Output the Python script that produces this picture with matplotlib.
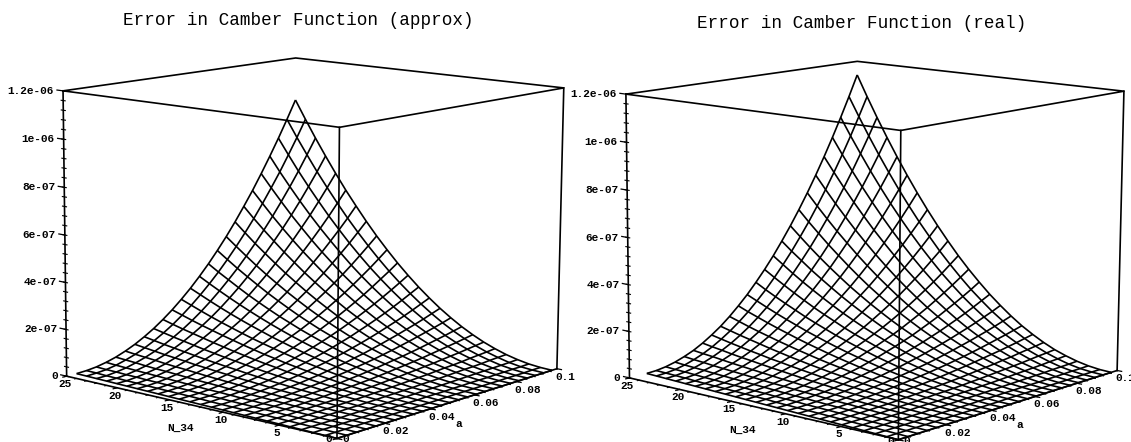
import numpy as np
import matplotlib
matplotlib.use('Agg')
import matplotlib.pyplot as plt
from mpl_toolkits.mplot3d import proj3d

W, H = 1131, 442

n_grid = [25*i/24 for i in range(25)]
a_grid = [0.1*i/24 for i in range(25)]

# error surfaces, units of 1e-9, rows = N_34, columns = a
z_approx = [
    [0]*25,
    [0,0,0,0,0,0,0,0,0,0,0,0,0,1,1,1,1,1,1,1,1,1,1,2,2],
    [0,0,0,0,0,0,0,1,1,1,1,1,2,2,2,3,3,4,4,4,5,5,6,6,7],
    [0,0,0,0,0,1,1,1,2,2,3,3,4,5,5,6,7,8,9,10,11,12,13,14,16],
    [0,0,0,0,1,1,2,2,3,4,5,6,7,8,10,11,12,14,16,18,19,21,24,26,28],
    [0,0,0,1,1,2,3,4,5,6,8,9,11,13,15,17,19,22,25,27,30,34,37,40,44],
    [0,0,0,1,2,3,4,5,7,9,11,13,16,19,21,25,28,32,35,40,44,48,53,58,63],
    [0,0,1,1,2,4,5,7,10,12,15,18,21,25,29,34,38,43,48,54,60,66,72,79,86],
    [0,0,1,2,3,5,7,10,12,16,19,24,28,33,38,44,50,56,63,70,78,86,94,103,112],
    [0,0,1,2,4,6,9,12,16,20,25,30,35,42,48,55,63,71,80,89,99,109,119,130,142],
    [0,0,1,3,5,8,11,15,19,25,30,37,44,51,60,68,78,88,99,110,122,134,147,161,175],
    [0,0,1,3,6,9,13,18,24,30,37,45,53,62,72,83,94,106,119,133,147,162,178,195,212],
    [0,0,2,4,7,11,16,21,28,35,44,53,63,74,86,99,112,127,142,158,175,193,212,232,252],
    [0,1,2,5,8,13,19,25,33,42,51,62,74,87,101,116,132,149,167,186,206,227,249,272,296],
    [0,1,2,5,10,15,21,29,38,48,60,72,86,101,117,134,153,172,193,215,238,263,289,315,343],
    [0,1,3,6,11,17,25,34,44,55,68,83,99,116,134,154,175,198,222,247,274,302,331,362,394],
    [0,1,3,7,12,19,28,38,50,63,78,94,112,132,153,175,199,225,252,281,311,343,377,412,448],
    [0,1,4,8,14,22,32,43,56,71,88,106,127,149,172,198,225,254,285,317,352,388,425,465,506],
    [0,1,4,9,16,25,35,48,63,80,99,119,142,167,193,222,252,285,319,356,394,435,477,521,568],
    [0,1,4,10,18,27,40,54,70,89,110,133,158,186,215,247,281,317,356,396,439,484,531,581,632],
    [0,1,5,11,19,30,44,60,78,99,122,147,175,206,238,274,311,352,394,439,487,536,589,644,701],
    [0,1,5,12,21,34,48,66,86,109,134,162,193,227,263,302,343,388,435,484,536,591,649,709,773],
    [0,1,6,13,24,37,53,72,94,119,147,178,212,249,289,331,377,425,477,531,589,649,712,779,848],
    [0,2,6,14,26,40,58,79,103,130,161,195,232,272,315,362,412,465,521,581,644,709,779,851,927],
    [0,2,7,16,28,44,63,86,112,142,175,212,252,296,343,394,448,506,568,632,701,773,848,927,1009],
]
z_real = [
    [0]*25,
    [0,0,0,0,0,0,0,0,0,0,0,0,0,1,1,1,1,1,1,1,1,2,2,2,2],
    [0,0,0,0,0,0,0,1,1,1,1,2,2,2,3,3,4,4,4,5,5,6,7,7,8],
    [0,0,0,0,0,1,1,2,2,2,3,4,4,5,6,7,8,9,10,11,12,14,15,16,18],
    [0,0,0,0,1,1,2,3,4,4,5,7,8,9,11,12,14,16,18,20,22,24,27,29,32],
    [0,0,0,1,1,2,3,4,5,7,9,10,12,14,17,19,22,25,28,31,34,38,42,45,49],
    [0,0,0,1,2,3,4,6,8,10,12,15,18,21,24,28,32,36,40,45,49,55,60,65,71],
    [0,0,1,2,3,4,6,8,11,14,17,20,24,28,33,38,43,49,55,61,67,74,81,89,97],
    [0,0,1,2,4,5,8,11,14,18,22,27,32,37,43,49,56,63,71,79,88,97,106,116,126],
    [0,0,1,2,4,7,10,14,18,22,28,34,40,47,54,62,71,80,90,100,111,122,134,147,160],
    [0,0,1,3,5,9,12,17,22,28,34,42,49,58,67,77,88,99,111,124,137,151,166,181,198],
    [0,0,2,4,7,10,15,20,27,34,42,50,60,70,81,93,106,120,134,150,166,183,201,220,239],
    [0,0,2,4,8,12,18,24,32,40,49,60,71,84,97,111,126,143,160,178,198,218,239,261,285],
    [0,1,2,5,9,14,21,28,37,47,58,70,84,98,114,130,148,168,188,209,232,256,281,307,334],
    [0,1,3,6,11,17,24,33,43,54,67,81,97,114,132,151,172,194,218,243,269,296,325,356,387],
    [0,1,3,7,12,19,28,38,49,62,77,93,111,130,151,174,198,223,250,279,309,340,374,408,445],
    [0,1,4,8,14,22,32,43,56,71,88,106,126,148,172,198,225,254,285,317,351,387,425,465,506],
    [0,1,4,9,16,25,36,49,63,80,99,120,143,168,194,223,254,286,321,358,397,437,480,524,571],
    [0,1,4,10,18,28,40,54,71,90,111,134,160,188,218,250,284,321,360,401,445,490,538,588,640],
    [0,1,5,11,20,31,45,61,79,100,124,150,178,209,243,279,317,358,401,447,495,546,599,655,713],
    [0,1,5,12,22,34,49,67,88,111,137,166,198,232,269,309,351,397,445,495,549,605,664,726,790],
    [0,2,6,14,24,38,54,74,97,122,151,183,218,256,296,340,387,437,490,546,605,667,732,800,871],
    [0,2,7,15,27,42,60,81,106,134,166,201,239,281,325,374,425,480,538,599,664,732,804,878,956],
    [0,2,7,16,29,45,65,89,116,147,181,220,261,307,356,408,465,524,588,655,726,800,878,960,1045],
    [0,2,8,18,32,49,71,97,126,160,198,239,285,334,387,445,506,571,640,713,790,871,956,1045,1138],
]

z_ticks = [0,2e-7,4e-7,6e-7,8e-7,1e-6,1.2e-6]
z_labels = ['0','2e-07','4e-07','6e-07','8e-07','1e-06','1.2e-06']
n_ticks = [0,5,10,15,20,25]
a_ticks = [0,.02,.04,.06,.08,.1]
a_labels = ['0','0.02','0.04','0.06','0.08','0.1']
top = 1.2e-6

plt.rcParams['font.family'] = ['Liberation Mono', 'DejaVu Sans Mono']
fig = plt.figure(figsize=(W/100, H/100), dpi=100)


def panel(cx, cy, size, z, title, tx, ty, zoom, a_low_end, a_high_start):
    ax = fig.add_axes([(cx-size/2)/W, 1-(cy+size/2)/H, size/W, size/H], projection='3d')
    ax.set_proj_type('persp', focal_length=0.8)
    ax.view_init(elev=11, azim=-140, roll=-0.35)
    ax.set_box_aspect((1, 1, 0.82), zoom=zoom)
    ax.set_xlim(0, 0.1, view_margin=0)
    ax.set_ylim(0, 25, view_margin=0)
    ax.set_zlim(0, top, view_margin=0)
    ax.set_axis_off()
    ax.patch.set_alpha(0)
    A, N = np.meshgrid(a_grid, n_grid)
    # the mesh does not quite reach the far ends of the floor edges
    low = np.linspace(0, a_low_end, 25)[:, None]
    high = np.linspace(a_high_start, 0.1, 25)[:, None]
    A = low + (high-low)*A/0.1
    ax.plot_wireframe(A, N, np.array(z)*1e-9, rstride=1, cstride=1, color='k', lw=1.2)
    # box: only the top face, three uprights and the two front floor edges
    for xs, ys, zs in [([0,0,.1,.1,0],[25,0,0,25,25],[top]*5),
                       ([0,0],[25,25],[0,top]), ([0,0],[0,0],[0,top]), ([.1,.1],[0,0],[0,top]),
                       ([0,0],[0,25],[0,0]), ([0,.1],[0,0],[0,0])]:
        ax.plot(xs, ys, zs, color='k', lw=1.2)

    def label(x, y, zv, s, dx, dy, ha='center'):
        px, py, _ = proj3d.proj_transform(x, y, zv, ax.get_proj())
        ax.annotate(s, (px, py), xytext=(dx, -dy), textcoords='offset pixels', ha=ha, va='center',
                    fontsize=8, weight='bold', annotation_clip=False)

    for t, lab in zip(z_ticks, z_labels):
        ax.plot([0,0], [25,25.6], [t,t], color='k', lw=0.9)
        label(0, 25, t, lab, -9, 0, 'right')
    for t in np.arange(0, 1.2e-6, 4e-8):
        ax.plot([0,0], [24.8,25.2], [t,t], color='k', lw=0.8)
    for v in n_ticks:
        ax.plot([0,-.0015], [v,v], [0,0], color='k', lw=0.9)
        label(0, v, 0, str(v), -8 if v == 0 else -2, 1 if v == 0 else 8)
    for v in range(26):
        ax.plot([0,-.0008], [v,v], [0,0], color='k', lw=0.7)
    for v, lab in zip(a_ticks, a_labels):
        ax.plot([v,v], [0,-.4], [0,0], color='k', lw=0.9)
        label(v, 0, 0, lab, 5 if v == 0 else -2, 1 if v == 0 else 8, 'left')
    for v in np.arange(0, .1, .004):
        ax.plot([v,v], [0,-.2], [0,0], color='k', lw=0.7)
    label(0, 12.5, 0, 'N_34', -15, 22)
    label(.05, 0, 0, 'a', 6, 22)
    fig.text(tx/W, 1-ty/H, title, fontsize=12.7, ha='center', va='center')
    return ax


panel(306.5, 240.5, 600, z_approx, 'Error in Camber Function (approx)', 298, 20.5, 0.93, 0.004, 0.0975)
panel(868, 243, 600, z_real, 'Error in Camber Function (real)', 861.5, 23, 0.925, 0.007, 0.097)
fig.savefig('out.png', dpi=100)
